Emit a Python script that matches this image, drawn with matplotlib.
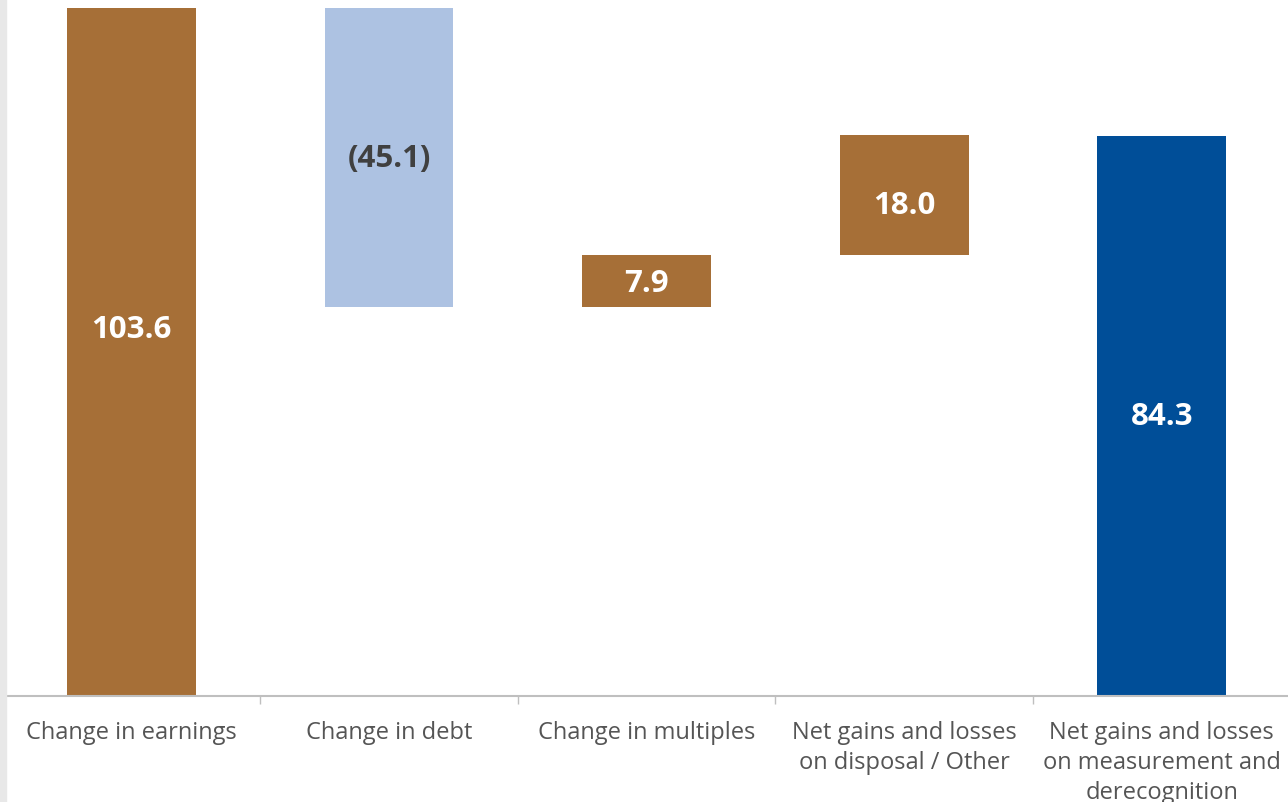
import matplotlib.pyplot as plt
from matplotlib.patches import Rectangle

categories = [
    "Change in earnings",
    "Change in debt",
    "Change in multiples",
    "Net gains and losses\non disposal / Other",
    "Net gains and losses\non measurement and\nderecognition",
]
changes = [103.6, -45.1, 7.9, 18.0]
total = 84.3
labels = ["103.6", "(45.1)", "7.9", "18.0", "84.3"]
# nudge for value labels that sit off the bar centre in the original
label_nudge = [3.5, 0.0, -0.3, -1.4, 0.0]

BROWN = "#A66F37"
LIGHT_BLUE = "#ADC2E2"
DARK_BLUE = "#004E98"

plt.rcParams["font.family"] = ["Open Sans", "DejaVu Sans"]

fig = plt.figure(figsize=(12.88, 8.03), dpi=100)
ax = fig.add_axes([0.002, 1 - 697 / 803, 1.0, 697 / 803])

# waterfall bars
bottoms, heights, colors = [], [], []
running = 0.0
for v in changes:
    if v >= 0:
        bottoms.append(running)
        heights.append(v)
        colors.append(BROWN)
    else:
        bottoms.append(running + v)
        heights.append(-v)
        colors.append(LIGHT_BLUE)
    running += v
bottoms.append(0)
heights.append(total)
colors.append(DARK_BLUE)

x = list(range(len(categories)))
ax.bar(x, heights, bottom=bottoms, width=0.5, color=colors, zorder=2)

for xi, b, h, lab, c, dn in zip(x, bottoms, heights, labels, colors, label_nudge):
    tc = "#404040" if c == LIGHT_BLUE else "white"
    ax.text(xi, b + h / 2 + dn, lab, ha="center", va="center", color=tc,
            fontsize=22.5, fontweight="bold")

ax.set_xlim(-0.5, 4.5)
ax.set_ylim(0, 104.95)
ax.set_yticks([])
for s in ["top", "right", "left"]:
    ax.spines[s].set_visible(False)
ax.spines["bottom"].set_color("#BFBFBF")
ax.spines["bottom"].set_linewidth(1.5)

ax.set_xticks(x)
ax.set_xticklabels(categories, fontsize=17, color="#555555", linespacing=1.35)
ax.tick_params(axis="x", which="major", length=0, pad=17)
ax.set_xticks([0.5, 1.5, 2.5, 3.5], minor=True)
ax.tick_params(axis="x", which="minor", length=6, color="#BFBFBF", width=1)

# grey strip on the left edge
fig.patches.append(Rectangle((0, 0), 6 / 1288, 1, transform=fig.transFigure,
                             color="#E8E8E8", zorder=0))

fig.savefig("out.png", dpi=100)
